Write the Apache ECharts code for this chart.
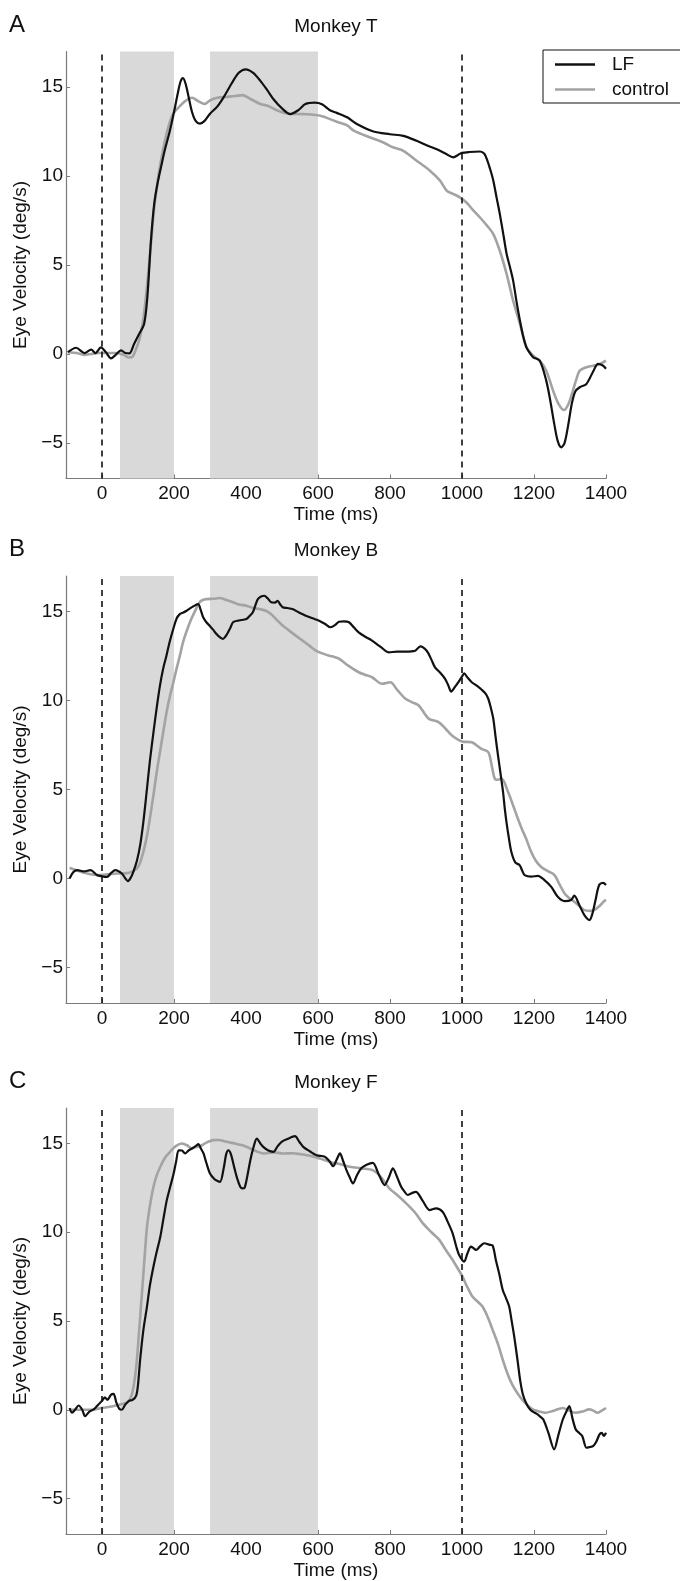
<!DOCTYPE html>
<html>
<head>
<meta charset="utf-8">
<script src="https://cdn.jsdelivr.net/npm/echarts@6.0.0/dist/echarts.min.js"></script>
<style>
html,body{margin:0;padding:0;background:#fff;}
#chart{width:680px;height:1581px;}
</style>
</head>
<body>
<div id="chart"></div>
<script>
// ---- tick labels / ranges ----
const xTicks = [0, 200, 400, 600, 800, 1000, 1200, 1400];
const yTicks = [-5, 0, 5, 10, 15];
const bands = [[50, 200], [300, 600]];
const eventLines = [0, 1000];
const panelLetters = ['A', 'B', 'C'];
const panelTitles = ['Monkey T', 'Monkey B', 'Monkey F'];
const seriesNames = ['LF', 'control'];

// ---- Monkey T ----
const monkeyT_LF = [[-95,0.1],[-72,0.35],[-49,0.05],[-30,0.24],[-18,0.05],[-3,0.37],[11,0.09],[25,-0.25],[38,-0.05],[53,0.2],[65,0.05],[76,0.03],[89,0.56],[103,1.12],[117,1.69],[126,3.2],[136,6.37],[145,8.43],[154,9.55],[165,10.6],[175,11.5],[188,12.5],[200,13.6],[210,14.6],[218,15.3],[225,15.5],[232,15.2],[240,14.5],[250,13.6],[260,13.1],[272,12.95],[285,13.1],[300,13.5],[320,13.9],[340,14.5],[360,15.2],[380,15.8],[399,16.0],[420,15.8],[440,15.35],[460,14.8],[477,14.3],[500,13.8],[523,13.48],[545,13.7],[565,14.05],[590,14.13],[611,14.04],[633,13.7],[652,13.55],[681,13.3],[708,12.92],[754,12.5],[800,12.35],[837,12.26],[874,11.98],[900,11.75],[930,11.5],[955,11.25],[976,11.05],[990,11.2],[1000,11.3],[1020,11.35],[1050,11.38],[1062,11.25],[1070,10.9],[1078,10.4],[1087,9.74],[1096,8.8],[1105,7.87],[1115,6.7],[1124,5.62],[1133,4.9],[1142,4.12],[1151,3.0],[1161,1.87],[1170,1.0],[1179,0.37],[1190,0.0],[1198,-0.19],[1216,-0.38],[1234,-1.5],[1245,-2.6],[1256,-3.9],[1266,-4.9],[1276,-5.25],[1285,-5.0],[1295,-4.0],[1305,-2.8],[1315,-2.1],[1327,-1.87],[1345,-1.7],[1364,-1.0],[1378,-0.56],[1391,-0.65],[1400,-0.83]];
const monkeyT_control = [[-95,0.1],[-70,0.05],[-50,-0.05],[-30,0.0],[-10,0.05],[0,0.05],[20,0.05],[40,0.05],[60,-0.05],[75,-0.2],[85,-0.15],[95,0.3],[105,0.9],[115,2.0],[125,3.8],[135,6.0],[145,8.2],[155,9.8],[165,11.0],[175,12.0],[185,12.8],[195,13.4],[205,13.7],[215,13.9],[230,14.2],[250,14.4],[268,14.2],[285,14.05],[300,14.25],[320,14.4],[345,14.45],[370,14.5],[390,14.55],[415,14.3],[440,14.05],[460,13.95],[489,13.67],[520,13.5],[561,13.48],[609,13.38],[652,13.05],[681,12.85],[699,12.55],[745,12.17],[780,11.9],[810,11.6],[837,11.42],[874,10.86],[911,10.3],[939,9.74],[958,9.17],[975,9.0],[994,8.8],[1013,8.5],[1030,8.1],[1050,7.67],[1070,7.2],[1087,6.74],[1105,5.8],[1124,4.49],[1142,3.0],[1161,1.69],[1179,0.37],[1198,-0.1],[1216,-0.38],[1234,-0.94],[1253,-2.06],[1268,-2.8],[1284,-3.15],[1296,-2.8],[1308,-2.06],[1318,-1.4],[1327,-0.94],[1345,-0.75],[1364,-0.66],[1380,-0.6],[1400,-0.38]];

// ---- Monkey B ----
const monkeyB_LF = [[-90,0.0],[-80,0.35],[-69,0.47],[-50,0.4],[-32,0.47],[-14,0.19],[0,0.12],[14,0.09],[25,0.3],[37,0.47],[55,0.28],[65,0.0],[72,-0.15],[80,0.05],[87,0.37],[97,1.0],[106,1.87],[115,3.2],[124,4.86],[133,6.6],[143,8.22],[152,9.6],[161,10.84],[170,11.8],[179,12.52],[188,13.3],[198,14.02],[207,14.6],[216,14.86],[226,14.95],[235,15.05],[250,15.25],[267,15.42],[274,15.1],[281,14.68],[290,14.4],[299,14.21],[308,14.0],[318,13.74],[328,13.55],[336,13.46],[343,13.6],[350,13.83],[357,14.1],[364,14.4],[380,14.5],[401,14.58],[410,14.75],[419,14.96],[426,15.35],[433,15.7],[442,15.85],[451,15.89],[460,15.75],[470,15.52],[480,15.5],[488,15.6],[495,15.4],[502,15.24],[515,15.2],[529,15.14],[547,14.95],[566,14.77],[585,14.62],[603,14.49],[620,14.3],[635,14.12],[648,14.25],[658,14.43],[672,14.45],[686,14.4],[700,14.1],[713,13.83],[730,13.6],[750,13.37],[775,13.0],[796,12.71],[820,12.75],[843,12.75],[870,12.8],[884,13.05],[902,12.8],[915,12.3],[925,11.87],[940,11.55],[953,11.22],[962,10.85],[970,10.5],[980,10.75],[990,11.03],[1000,11.35],[1006,11.53],[1015,11.3],[1027,11.03],[1040,10.85],[1054,10.62],[1065,10.4],[1073,10.1],[1080,9.6],[1087,8.97],[1093,8.0],[1100,6.92],[1107,5.9],[1114,4.86],[1119,3.9],[1124,3.1],[1130,2.3],[1137,1.5],[1148,0.9],[1160,0.75],[1168,0.4],[1174,0.19],[1192,0.1],[1211,0.15],[1229,-0.09],[1248,-0.47],[1266,-1.03],[1285,-1.27],[1303,-1.21],[1312,-0.97],[1326,-1.5],[1340,-2.06],[1354,-2.34],[1362,-2.0],[1370,-1.3],[1381,-0.37],[1392,-0.25],[1400,-0.37]];
const monkeyB_control = [[-90,0.6],[-70,0.45],[-41,0.28],[-10,0.19],[10,0.22],[41,0.28],[70,0.3],[85,0.4],[97,0.56],[106,0.9],[115,1.5],[124,2.3],[133,3.37],[143,4.7],[152,5.98],[161,7.1],[170,8.22],[179,9.3],[189,10.28],[198,11.0],[207,11.78],[216,12.5],[225,13.27],[236,13.95],[248,14.58],[260,15.1],[271,15.52],[280,15.65],[290,15.7],[310,15.72],[327,15.76],[345,15.65],[364,15.52],[380,15.4],[401,15.33],[420,15.2],[437,15.14],[455,15.05],[470,14.85],[483,14.58],[500,14.25],[520,13.93],[540,13.62],[557,13.37],[575,13.1],[594,12.8],[612,12.65],[631,12.52],[645,12.45],[658,12.36],[685,11.95],[713,11.59],[730,11.45],[750,11.31],[778,10.94],[801,11.03],[820,10.6],[843,10.1],[862,9.9],[880,9.72],[895,9.3],[908,8.97],[935,8.79],[955,8.4],[972,8.04],[1000,7.7],[1027,7.65],[1054,7.29],[1073,7.1],[1082,6.4],[1091,5.61],[1100,5.55],[1110,5.61],[1128,4.86],[1142,4.1],[1155,3.37],[1166,2.8],[1178,2.24],[1192,1.5],[1205,1.0],[1220,0.65],[1240,0.4],[1257,0.19],[1270,-0.3],[1285,-0.84],[1298,-1.1],[1312,-1.31],[1326,-1.55],[1340,-1.78],[1355,-1.82],[1367,-1.78],[1382,-1.55],[1395,-1.27],[1400,-1.2]];

// ---- Monkey F ----
const monkeyF_LF = [[-90,0.1],[-83,-0.17],[-75,0.0],[-65,0.24],[-55,0.0],[-47,-0.36],[-35,-0.1],[-23,0.02],[-10,0.3],[0,0.5],[8,0.7],[15,0.55],[25,0.85],[32,0.9],[40,0.4],[48,0.05],[55,0.0],[65,0.3],[75,0.5],[85,0.55],[95,0.8],[100,1.4],[106,2.83],[115,4.5],[125,5.82],[133,7.0],[143,8.07],[152,8.9],[162,9.75],[171,10.8],[180,11.81],[190,12.6],[199,13.31],[206,14.0],[213,14.62],[222,14.6],[231,14.44],[240,14.6],[250,14.72],[260,14.85],[268,14.96],[275,14.7],[282,14.44],[290,13.9],[300,13.31],[312,13.0],[320,12.9],[328,12.84],[338,13.6],[345,14.4],[351,14.62],[358,14.4],[368,13.6],[376,13.0],[384,12.56],[390,12.47],[396,12.5],[404,13.2],[412,14.06],[421,14.8],[430,15.28],[440,15.0],[448,14.81],[462,14.6],[476,14.53],[488,14.85],[499,15.09],[515,15.25],[536,15.41],[548,15.1],[559,14.81],[578,14.55],[596,14.34],[619,14.25],[632,14.0],[642,13.72],[652,14.1],[661,14.44],[670,14.0],[679,13.5],[688,13.1],[697,12.75],[708,13.2],[720,13.6],[735,13.8],[752,13.91],[768,13.3],[785,12.66],[797,13.1],[808,13.6],[820,13.1],[831,12.56],[840,12.3],[849,12.1],[860,12.2],[872,12.28],[890,11.8],[910,11.25],[928,11.35],[946,11.16],[960,10.6],[974,9.94],[984,9.2],[992,8.72],[1006,8.35],[1015,8.8],[1025,9.19],[1032,9.1],[1039,9.0],[1050,9.2],[1062,9.38],[1075,9.3],[1085,9.25],[1094,8.44],[1104,7.6],[1113,6.76],[1122,6.3],[1131,5.82],[1138,5.0],[1145,4.13],[1154,2.83],[1162,1.6],[1170,0.8],[1180,0.3],[1190,0.0],[1200,-0.15],[1210,-0.26],[1218,-0.4],[1226,-0.55],[1240,-1.3],[1256,-2.23],[1268,-1.4],[1280,-0.55],[1290,-0.1],[1298,0.2],[1307,-0.5],[1316,-1.11],[1325,-1.3],[1334,-1.48],[1346,-2.14],[1355,-2.1],[1364,-2.05],[1373,-1.8],[1382,-1.39],[1388,-1.3],[1394,-1.48],[1400,-1.3]];
const monkeyF_control = [[-90,0.0],[-60,0.0],[-30,0.0],[0,0.1],[30,0.2],[50,0.3],[70,0.4],[82,0.8],[90,1.6],[97,2.83],[104,4.7],[111,6.57],[118,8.5],[125,10.31],[134,11.6],[143,12.56],[152,13.2],[162,13.69],[175,14.2],[189,14.53],[205,14.85],[222,15.0],[236,14.9],[250,14.72],[262,14.8],[273,14.85],[290,15.05],[309,15.19],[325,15.2],[345,15.1],[370,15.0],[390,14.9],[412,14.72],[430,14.55],[448,14.44],[475,14.5],[504,14.44],[530,14.45],[550,14.4],[580,14.3],[605,14.16],[635,13.95],[660,13.85],[688,13.69],[720,13.6],[752,13.5],[775,13.1],[798,12.47],[820,12.1],[845,11.63],[870,11.1],[891,10.51],[915,10.0],[937,9.57],[955,9.0],[974,8.44],[990,7.9],[1001,7.51],[1015,6.9],[1029,6.38],[1043,6.1],[1057,5.82],[1072,5.2],[1085,4.51],[1100,3.7],[1113,2.83],[1127,2.0],[1140,1.4],[1155,0.9],[1170,0.5],[1185,0.2],[1196,0.02],[1215,-0.1],[1232,-0.17],[1255,-0.05],[1280,0.1],[1298,-0.05],[1316,-0.17],[1335,-0.1],[1353,0.02],[1365,-0.05],[1376,-0.17],[1388,-0.05],[1400,0.1]];

const lfData = [monkeyT_LF, monkeyB_LF, monkeyF_LF];
const controlData = [monkeyT_control, monkeyB_control, monkeyF_control];

// ---- layout ----
const FONT = "'Liberation Sans', Arial, Helvetica, sans-serif";
const FS = 19;
const gridTops = [51.5, 576, 1108];
const gridH = 427;
const gridLeft = 66;
const gridW = 540;

const grids = [], xAxes = [], yAxes = [], series = [], graphics = [];
gridTops.forEach((top, i) => {
  grids.push({left: gridLeft, top: top, width: gridW, height: gridH});
  xAxes.push({
    type: 'value', gridIndex: i, min: -100, max: 1400,
    name: 'Time (ms)', nameLocation: 'middle', nameGap: 27,
    nameTextStyle: {fontFamily: FONT, fontSize: FS, color: '#111'},
    axisLine: {show: true, onZero: false, lineStyle: {color: '#7a7a7a', width: 1.2}},
    axisTick: {show: true, inside: true, length: 4, customValues: xTicks, lineStyle: {color: '#7a7a7a'}},
    axisLabel: {customValues: xTicks, margin: 6, fontFamily: FONT, fontSize: FS, color: '#111',
      formatter: v => String(v)},
    splitLine: {show: false}
  });
  yAxes.push({
    type: 'value', gridIndex: i, min: -7, max: 17,
    name: 'Eye Velocity (deg/s)', nameLocation: 'middle', nameGap: 30,
    nameTextStyle: {fontFamily: FONT, fontSize: FS, color: '#111'},
    axisLine: {show: true, onZero: false, lineStyle: {color: '#7a7a7a', width: 1.2}},
    axisTick: {show: true, inside: true, length: 4, customValues: yTicks, lineStyle: {color: '#7a7a7a'}},
    axisLabel: {customValues: yTicks, margin: 3, fontFamily: FONT, fontSize: FS, color: '#111',
      formatter: v => (v < 0 ? '\u2212' + Math.abs(v) : String(v))},
    splitLine: {show: false}
  });
  series.push({
    name: seriesNames[1], type: 'line', xAxisIndex: i, yAxisIndex: i,
    data: controlData[i], symbol: 'none', smooth: 0.3,
    lineStyle: {color: '#a3a3a3', width: 2.6}, itemStyle: {color: '#a3a3a3'},
    z: 3,
    markArea: {
      silent: true,
      itemStyle: {color: '#d9d9d9', opacity: 1},
      data: bands.map(b => [{xAxis: b[0]}, {xAxis: b[1]}])
    },
    markLine: {
      silent: true, symbol: 'none', label: {show: false},
      lineStyle: {color: '#111', type: [6, 5], width: 1.6},
      data: eventLines.map(x => ({xAxis: x}))
    }
  });
  series.push({
    name: seriesNames[0], type: 'line', xAxisIndex: i, yAxisIndex: i,
    data: lfData[i], symbol: 'none', smooth: 0.3,
    lineStyle: {color: '#111', width: 2.2}, itemStyle: {color: '#111'},
    z: 4
  });
  const offset = top - gridTops[0];
  graphics.push({type: 'text', x: 9, y: 13 + offset,
    style: {text: panelLetters[i], font: '24px ' + FONT, fill: '#111', textAlign: 'left', verticalAlign: 'top', textVerticalAlign: 'top'}});
  graphics.push({type: 'text', x: gridLeft + gridW / 2, y: 17 + offset,
    style: {text: panelTitles[i], font: FS + 'px ' + FONT, fill: '#111', textAlign: 'center', verticalAlign: 'top', textVerticalAlign: 'top'}});
});

const chart = echarts.init(document.getElementById('chart'), null, {renderer: 'canvas'});
chart.setOption({
  animation: false,
  backgroundColor: '#fff',
  grid: grids,
  xAxis: xAxes,
  yAxis: yAxes,
  legend: {
    data: seriesNames, orient: 'vertical', left: 543, top: 50,
    icon: 'rect', itemWidth: 40, itemHeight: 2.4,
    borderColor: '#111', borderWidth: 1, backgroundColor: '#fff',
    padding: [5, 14, 4, 12], itemGap: 6,
    textStyle: {fontFamily: FONT, fontSize: FS, color: '#111', padding: [0, 0, 0, 12]}
  },
  graphic: graphics,
  series: series
});
</script>
</body>
</html>
